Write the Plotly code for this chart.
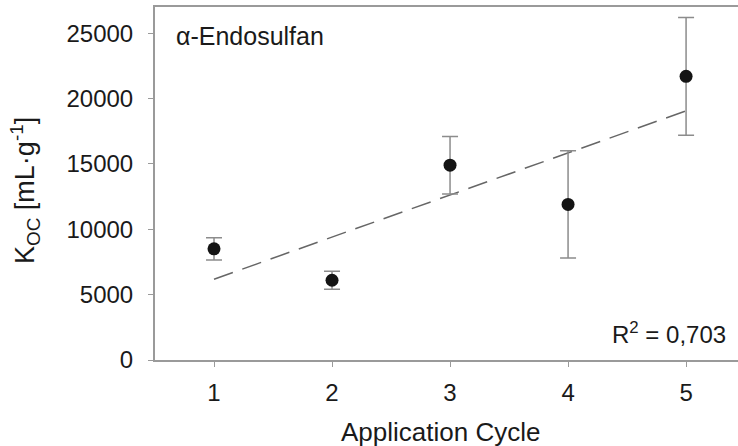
import numpy as np
import plotly.graph_objects as go

# Sorption coefficient of alpha-endosulfan per application cycle
cycles = [1, 2, 3, 4, 5]
koc_mean = [8500, 6100, 14900, 11900, 21700]
koc_err = [850, 680, 2200, 4100, 4500]
r2_label = "R<sup>2</sup> = 0,703"
compound = "\u03b1-Endosulfan"

# Linear trend through the means
slope, intercept = np.polyfit(cycles, koc_mean, 1)
trend_x = [cycles[0], cycles[-1]]
trend_y = [slope * x + intercept for x in trend_x]

FONT = "Liberation Sans, Arial, sans-serif"
TXT = "#1a1a1a"
AX = "#9a9a9a"

fig = go.Figure()

fig.add_trace(go.Scatter(
    x=trend_x, y=trend_y, mode="lines",
    line=dict(color="#666666", width=1.5, dash="20px,10px"),
    hoverinfo="skip", showlegend=False,
))

fig.add_trace(go.Scatter(
    x=cycles, y=koc_mean, mode="markers",
    marker=dict(color="#141414", size=13),
    error_y=dict(type="data", array=koc_err, visible=True,
                 color="#8c8c8c", thickness=1.5, width=8),
    showlegend=False,
))

fig.update_layout(
    width=738, height=446,
    margin=dict(l=155, r=0, t=7, b=86),
    paper_bgcolor="white", plot_bgcolor="white",
    font=dict(family=FONT, color=TXT),
    xaxis=dict(
        range=[0.5, 5.44], tickvals=cycles, showgrid=False, zeroline=False,
        showline=True, linecolor=AX, linewidth=2, mirror=True,
        ticks="outside", ticklen=5, tickwidth=1, tickcolor=AX,
        tickfont=dict(size=24, family=FONT, color=TXT),
        ticklabelstandoff=5,
    ),
    yaxis=dict(
        range=[0, 27000], tickvals=[0, 5000, 10000, 15000, 20000, 25000],
        tickformat="d", showgrid=False, zeroline=False,
        showline=True, linecolor=AX, linewidth=2,
        ticks="outside", ticklen=5, tickwidth=1, tickcolor=AX,
        tickfont=dict(size=24, family=FONT, color=TXT),
        ticklabelstandoff=10,
    ),
    annotations=[
        dict(text=compound, xref="paper", yref="paper",
             x=(174 - 155) / 583, y=(360 - 36) / 353,
             xanchor="left", yanchor="middle", showarrow=False,
             font=dict(size=25, family=FONT, color=TXT)),
        dict(text=r2_label, xref="paper", yref="paper",
             x=(728 - 155) / 583, y=(360 - 333) / 353,
             xanchor="right", yanchor="middle", showarrow=False,
             font=dict(size=24, family=FONT, color=TXT)),
        dict(text="Application Cycle", xref="paper", yref="paper",
             x=(440 - 155) / 583, y=(360 - 432) / 353,
             xanchor="center", yanchor="middle", showarrow=False,
             font=dict(size=26, family=FONT, color=TXT)),
        dict(text="K<sub>OC</sub> [mL\u00b7g<sup>-1</sup>]", xref="paper", yref="paper",
             x=(25 - 155) / 583, y=(360 - 191) / 353, textangle=-90,
             xanchor="center", yanchor="middle", showarrow=False,
             font=dict(size=27, family=FONT, color=TXT)),
    ],
)

fig.write_html("out.html")
